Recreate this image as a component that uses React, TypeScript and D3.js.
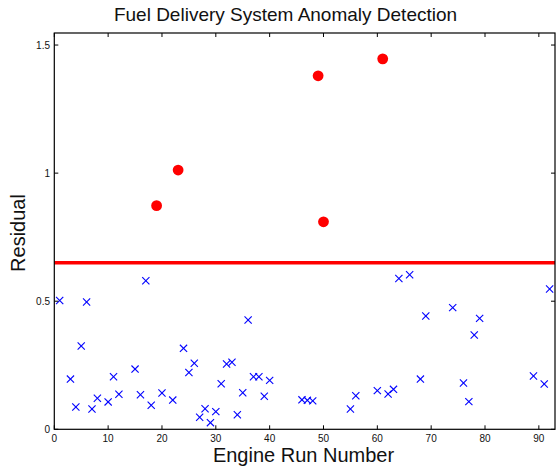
import React from "react";
import * as d3 from "d3";

const normalRuns = [1, 3, 4, 5, 6, 7, 8, 10, 11, 12, 15, 16, 17, 18, 20, 22, 24, 25, 26, 27, 28, 29, 30, 31, 32, 33, 34, 35, 36, 37, 38, 39, 40, 46, 47, 48, 55, 56, 60, 62, 63, 64, 66, 68, 69, 74, 76, 77, 78, 79, 89, 91, 92];
const normalResiduals = [0.503, 0.196, 0.087, 0.325, 0.497, 0.079, 0.121, 0.107, 0.205, 0.137, 0.235, 0.135, 0.58, 0.094, 0.142, 0.114, 0.316, 0.222, 0.258, 0.047, 0.08, 0.026, 0.069, 0.178, 0.255, 0.262, 0.057, 0.143, 0.427, 0.205, 0.205, 0.129, 0.191, 0.115, 0.113, 0.111, 0.079, 0.131, 0.151, 0.138, 0.156, 0.589, 0.603, 0.196, 0.442, 0.475, 0.181, 0.108, 0.368, 0.433, 0.208, 0.177, 0.548];
const anomalyRuns = [19, 23, 49, 50, 61];
const anomalyResiduals = [0.873, 1.012, 1.38, 0.81, 1.446];
const threshold = 0.65;
const xTicks = [0, 10, 20, 30, 40, 50, 60, 70, 80, 90];
const yTicks = [0, 0.5, 1, 1.5];
const yTickLabels = ["0", "0.5", "1", "1.5"];

const W = 556;
const H = 470;
const FONT = "'Liberation Sans', Arial, Helvetica, sans-serif";

export default function App() {
  const x = d3.scaleLinear().domain([0, 93]).range([54.3, 555]);
  const y = d3.scaleLinear().domain([0, 1.547]).range([429.3, 33]);
  const [x0, x1] = x.range();
  const [yb, yt] = y.range();
  const tl = 4;
  const ms = 3.6;

  return (
    <svg width={W} height={H} style={{ position: "absolute", left: 0, top: 0, background: "#fff" }}>
      <rect x={0} y={0} width={W} height={H} fill="#fff" />
      {/* threshold line */}
      <line x1={x0} x2={x1} y1={y(threshold)} y2={y(threshold)} stroke="#ff0000" strokeWidth={3.5} />
      {/* normal runs */}
      {normalRuns.map((r, i) => {
        const cx = x(r);
        const cy = y(normalResiduals[i]);
        return (
          <g key={"n" + i} stroke="#0000ff" strokeWidth={1.1}>
            <line x1={cx - ms} y1={cy - ms} x2={cx + ms} y2={cy + ms} />
            <line x1={cx - ms} y1={cy + ms} x2={cx + ms} y2={cy - ms} />
          </g>
        );
      })}
      {/* anomalies */}
      {anomalyRuns.map((r, i) => (
        <circle key={"a" + i} cx={x(r)} cy={y(anomalyResiduals[i])} r={5.4} fill="#ff0000" />
      ))}
      {/* axes box */}
      <rect x={x0} y={yt} width={x1 - x0} height={yb - yt} fill="none" stroke="#000" strokeWidth={1.2} />
      {/* x ticks */}
      {xTicks.map((t) => (
        <g key={"xt" + t}>
          <line x1={x(t)} x2={x(t)} y1={yb} y2={yb - tl} stroke="#000" strokeWidth={1} />
          <line x1={x(t)} x2={x(t)} y1={yt} y2={yt + tl} stroke="#000" strokeWidth={1} />
          <text x={x(t)} y={442} textAnchor="middle" fontFamily={FONT} fontSize={10} fill="#111">
            {t}
          </text>
        </g>
      ))}
      {/* y ticks */}
      {yTicks.map((t, i) => (
        <g key={"yt" + t}>
          <line x1={x0} x2={x0 + tl} y1={y(t)} y2={y(t)} stroke="#000" strokeWidth={1} />
          <line x1={x1} x2={x1 - tl} y1={y(t)} y2={y(t)} stroke="#000" strokeWidth={1} />
          <text x={50} y={y(t)} dy="0.35em" textAnchor="end" fontFamily={FONT} fontSize={10} fill="#111">
            {yTickLabels[i]}
          </text>
        </g>
      ))}
      {/* title */}
      <text x={285.5} y={20.5} textAnchor="middle" fontFamily={FONT} fontSize={19} fill="#111">
        Fuel Delivery System Anomaly Detection
      </text>
      {/* x label */}
      <text x={303.5} y={461.5} textAnchor="middle" fontFamily={FONT} fontSize={20} fill="#111">
        Engine Run Number
      </text>
      {/* y label */}
      <text
        transform={`translate(24.5,233) rotate(-90)`}
        textAnchor="middle"
        fontFamily={FONT}
        fontSize={20}
        fill="#111"
      >
        Residual
      </text>
    </svg>
  );
}
